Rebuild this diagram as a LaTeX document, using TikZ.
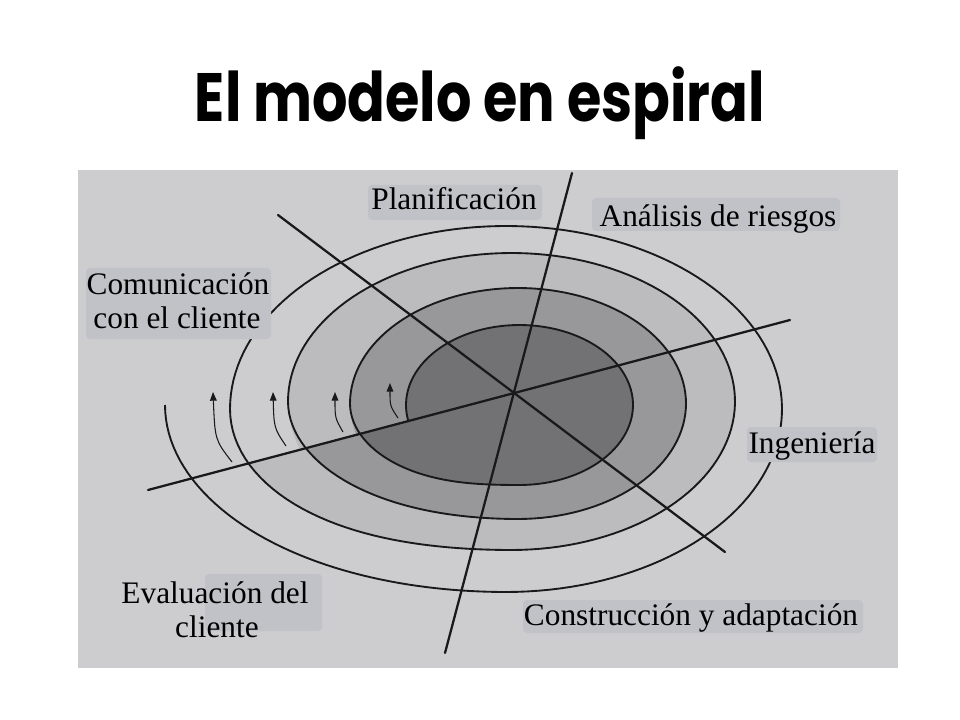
\documentclass[tikz,border=0pt]{standalone}
\usepackage{fontspec}
\setmainfont{Liberation Serif}
\newfontfamily\titlefont{Poppins}
\usetikzlibrary{arrows.meta}
\definecolor{paper}{RGB}{205,205,207}
\definecolor{bandC}{RGB}{188,188,190}
\definecolor{bandB}{RGB}{152,152,154}
\definecolor{bandA}{RGB}{114,114,116}
\definecolor{labelbg}{RGB}{193,194,200}
\definecolor{ink}{RGB}{25,25,25}
\pgfmathdeclarefunction{sw}{1}{\pgfmathparse{(1+cos(2*#1))/2}}
\begin{document}
\begin{tikzpicture}[x=0.75pt,y=-0.75pt,
  spiralline/.style={draw=ink, line width=1.4pt},
  axisline/.style={draw=ink, line width=1.7pt, line cap=round},
  arrowline/.style={draw=ink, line width=0.8pt, -{Triangle[length=6.5pt,width=5pt]}},
  lbl/.style={font=\fontsize{23.5}{28}\selectfont, inner sep=0pt, text=black},
  labelbox/.style={fill=labelbg, rounded corners=3pt}]
\useasboundingbox (0,0) rectangle (960,720);
\fill[white] (0,0) rectangle (960,720);
\fill[paper] (78,170) rectangle (898,668);

% ---- band fills: part above the shallow axis
\begin{scope}
  \clip (0,529.3) -- (960,274.3) -- (960,0) -- (0,0) -- cycle;
  \fill[bandC] plot[domain=0:360,samples=120] ({511.5+223.5*cos(\x)},{401.5-148.5*sin(\x)}) -- cycle;
  \fill[bandB] plot[domain=0:360,samples=120] ({518+168*cos(\x)},{403.5-115.5*sin(\x)}) -- cycle;
  \fill[bandA] plot[domain=0:360,samples=120] ({519.5+113.5*cos(\x)},{405-80*sin(\x)}) -- cycle;
\end{scope}
% ---- band fills: part below the shallow axis
\begin{scope}
  \clip (0,529.3) -- (960,274.3) -- (960,720) -- (0,720) -- cycle;
  \fill[bandC] plot[domain=90:-90,samples=60] ({511.5+223.5*cos(\x)},{401.5-148.5*sin(\x)})
    -- plot[domain=-90:-180,samples=40] ({511.5-5.5*sw(\x)+(223.5+52.5*sw(\x))*cos(\x)},{401.5+7.5*sw(\x)-(148.5+34.5*sw(\x))*sin(\x)})
    -- plot[domain=180:90,samples=30] ({506+276*cos(\x)},{409-183*sin(\x)}) -- cycle;
  \fill[bandB] plot[domain=90:-90,samples=60] ({518+168*cos(\x)},{403.5-115.5*sin(\x)})
    -- plot[domain=-90:-180,samples=40] ({518-6.5*sw(\x)+(168+55.5*sw(\x))*cos(\x)},{403.5-2*sw(\x)-(115.5+33*sw(\x))*sin(\x)})
    -- plot[domain=180:90,samples=30] ({511.5+223.5*cos(\x)},{401.5-148.5*sin(\x)}) -- cycle;
  \fill[bandA] plot[domain=90:-90,samples=60] ({519.5+113.5*cos(\x)},{405-80*sin(\x)})
    -- plot[domain=-90:-180,samples=40] ({519.5-1.5*sw(\x)+(113.5+54.5*sw(\x))*cos(\x)},{405-1.5*sw(\x)-(80+35.5*sw(\x))*sin(\x)})
    -- plot[domain=180:90,samples=30] ({518+168*cos(\x)},{403.5-115.5*sin(\x)}) -- cycle;
\end{scope}

% ---- the spiral
\draw[spiralline]
  plot[domain=191.4:-90,samples=90] ({519.5+113.5*cos(\x)},{405-80*sin(\x)})
  -- plot[domain=-90:-180,samples=40] ({519.5-1.5*sw(\x)+(113.5+54.5*sw(\x))*cos(\x)},{405-1.5*sw(\x)-(80+35.5*sw(\x))*sin(\x)})
  -- plot[domain=-180:-450,samples=100] ({518+168*cos(\x)},{403.5-115.5*sin(\x)})
  -- plot[domain=-450:-540,samples=40] ({518-6.5*sw(\x)+(168+55.5*sw(\x))*cos(\x)},{403.5-2*sw(\x)-(115.5+33*sw(\x))*sin(\x)})
  -- plot[domain=-540:-810,samples=110] ({511.5+223.5*cos(\x)},{401.5-148.5*sin(\x)})
  -- plot[domain=-810:-900,samples=40] ({511.5-5.5*sw(\x)+(223.5+52.5*sw(\x))*cos(\x)},{401.5+7.5*sw(\x)-(148.5+34.5*sw(\x))*sin(\x)})
  -- plot[domain=-900:-1170,samples=120] ({506+276*cos(\x)},{409-183*sin(\x)})
  -- plot[domain=-1170:-1260,samples=50] ({506-6*sw(\x)+(276+59*sw(\x))*cos(\x)},{409-4*sw(\x)-(183+37*sw(\x))*sin(\x)});

% ---- small direction arrows
\coordinate (t1) at (232,462); \coordinate (h1) at (213,392);
\coordinate (t2) at (286,446); \coordinate (h2) at (273,392);
\coordinate (t3) at (343,432); \coordinate (h3) at (335,392);
\coordinate (t4) at (398,418); \coordinate (h4) at (390,383);
\draw[arrowline] (t1) .. controls (215,440) .. (h1);
\draw[arrowline] (t2) .. controls (274,428) .. (h2);
\draw[arrowline] (t3) .. controls (335,418) .. (h3);
\draw[arrowline] (t4) .. controls (390,406) .. (h4);

% ---- the three axes
\coordinate (va) at (572,173); \coordinate (vb) at (445,653);
\coordinate (da) at (278,215); \coordinate (db) at (725,552);
\coordinate (sa) at (148,490); \coordinate (sb) at (790,320);
\draw[axisline] (va) -- (vb);
\draw[axisline] (da) -- (db);
\draw[axisline] (sa) -- (sb);

% ---- label backgrounds
\fill[labelbox] (368,185) rectangle (542,220);
\fill[labelbox] (592,198) rectangle (840,231);
\fill[labelbox] (86,268) rectangle (271,339);
\fill[labelbox] (747,427) rectangle (877,462);
\fill[labelbox] (205,574) rectangle (322,631);
\fill[labelbox] (523,600) rectangle (863,633);

% ---- labels
\node[lbl, anchor=base] (plan) at (454,210) {Planificación};
\node[lbl, anchor=base] (anal) at (718,227) {Análisis de riesgos};
\node[lbl, anchor=base] (com1) at (178,295) {Comunicación};
\node[lbl, anchor=base] (com2) at (177,328) {con el cliente};
\node[lbl, anchor=base] (ing) at (812,453) {Ingeniería};
\node[lbl, anchor=base] (eva1) at (215,603) {Evaluación del};
\node[lbl, anchor=base] (eva2) at (217,637) {cliente};
\node[lbl, anchor=base] (con) at (691,625) {Construcción y adaptación};

% ---- title
\node[anchor=north, inner sep=0pt] (title) at (480,66)
  {\resizebox*{427.5pt}{54.75pt}{\titlefont\bfseries El modelo en espiral}};
\end{tikzpicture}
\end{document}
